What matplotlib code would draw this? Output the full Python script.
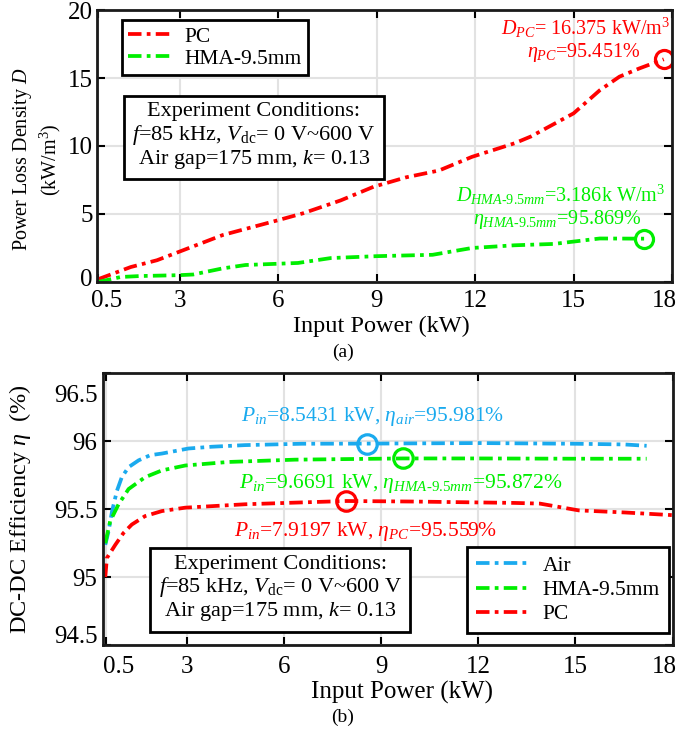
import matplotlib
matplotlib.use("Agg")
import matplotlib.pyplot as plt
from matplotlib.transforms import ScaledTranslation

plt.rcParams['font.family'] = ['Liberation Serif', 'DejaVu Serif']
plt.rcParams['mathtext.fontset'] = 'custom'
plt.rcParams['mathtext.rm'] = 'Liberation Serif'
plt.rcParams['mathtext.it'] = 'Liberation Serif:italic'
plt.rcParams['mathtext.bf'] = 'Liberation Serif:bold'

# ---------------- data (a) power loss density ----------------
pc_d_x = [0.5, 1.5, 2.3, 2.95, 4.3, 6.0, 6.75, 7.9, 8.9, 9.9, 10.9, 11.9, 13.2, 13.7, 15.0, 15.8, 16.4, 17.0, 17.75]
pc_d_y = [0.2, 1.1, 1.6, 2.2, 3.45, 4.55, 5.05, 6.0, 7.0, 7.7, 8.2, 9.2, 10.2, 10.7, 12.4, 14.1, 15.1, 15.7, 16.375]
hma_d_x = [0.5, 1.2, 1.8, 2.95, 3.4, 4.3, 5.0, 6.6, 7.6, 9.0, 10.7, 11.9, 13.2, 14.4, 15.8, 17.15]
hma_d_y = [0.0, 0.37, 0.44, 0.5, 0.55, 1.0, 1.25, 1.4, 1.76, 1.9, 2.0, 2.5, 2.7, 2.8, 3.2, 3.186]
pc_d_mark = (17.75, 16.375)
hma_d_mark = (17.15, 3.186)

# ---------------- data (b) efficiency ----------------
air_x = [0.47, 0.57, 0.68, 0.83, 0.98, 1.19, 1.5, 1.86, 2.22, 3.04, 3.76, 4.79, 6.54, 8.5431, 12.0, 15.0, 16.5, 17.2]
air_y = [95.237, 95.336, 95.485, 95.634, 95.734, 95.808, 95.858, 95.896, 95.908, 95.945, 95.958, 95.97, 95.98,
         95.981, 95.985, 95.98, 95.975, 95.965]
hma_x = [0.47, 0.62, 0.88, 1.19, 1.7, 2.22, 2.94, 4.27, 6.33, 9.6691, 12.0, 15.0, 17.2]
hma_y = [95.248, 95.41, 95.535, 95.647, 95.734, 95.784, 95.82, 95.846, 95.863, 95.872, 95.872, 95.87, 95.87]
pc_x = [0.47, 0.52, 0.78, 1.03, 1.29, 1.7, 2.22, 2.94, 4.79, 6.33, 7.9197, 10.0, 13.1, 13.9, 15.1, 16.5, 18.0]
pc_y = [95.0, 95.14, 95.237, 95.323, 95.386, 95.448, 95.485, 95.51, 95.535, 95.547, 95.559, 95.555, 95.545,
        95.54, 95.49, 95.475, 95.455]
air_mark = (8.5431, 95.981)
hma_mark = (9.6691, 95.872)
pc_mark = (7.9197, 95.559)

x_ticks = [0.5, 3, 6, 9, 12, 15, 18]
x_ticklabels = ['0.5', '3', '6', '9', '12', '15', '18']
d_ticks = [0, 5, 10, 15, 20]
eta_ticks = [94.5, 95, 95.5, 96, 96.5]
eta_ticklabels = ['94.5', '95', '95.5', '96', '96.5']

RED = '#FF0000'
GREEN = '#00EE00'
BLUE = '#1AAAEE'
DASH = (3.6, 1.4, 1.0, 1.4)
LW = 2.7

fig = plt.figure(figsize=(6.8, 7.3), dpi=100)
ax1 = fig.add_axes([0.1426, 0.6137, 0.8456, 0.3726])
ax2 = fig.add_axes([0.1515, 0.1164, 0.8375, 0.3726])


def style(ax):
    for s in ax.spines.values():
        s.set_linewidth(2.0)
        s.set_color('#1a1a1a')
    ax.grid(True, color='#e2e2e2', linewidth=1.5)
    ax.set_axisbelow(True)
    ax.tick_params(direction='in', length=6, width=1.5, top=True, right=True,
                   labelsize=18)


def shift(label, dx=0, dy=0):
    label.set_transform(label.get_transform() +
                        ScaledTranslation(dx / 100, dy / 100, fig.dpi_scale_trans))


COND = 'Experiment Conditions:\n$f$=85 kHz, $V_{\\rm dc}$= 0 V~600 V\nAir gap=175 mm, $k$= 0.13'

# ---------------- (a) ----------------
style(ax1)
ax1.plot(pc_d_x, pc_d_y, color=RED, lw=LW, dashes=DASH, label='PC')
ax1.plot(hma_d_x, hma_d_y, color=GREEN, lw=LW, dashes=DASH, label='HMA-9.5mm')
ax1.plot([pc_d_mark[0]], [pc_d_mark[1]], 'o', ms=13, mfc='none', mec=RED, mew=2.3)
ax1.plot([hma_d_mark[0]], [hma_d_mark[1]], 'o', ms=13, mfc='none', mec=GREEN, mew=2.3)
ax1.set_xlim(0.47, 18)
ax1.set_ylim(0, 20)
ax1.set_xticks(x_ticks)
ax1.set_xticklabels(x_ticklabels)
ax1.set_yticks(d_ticks)
ax1.tick_params(axis='x', pad=6)
ax1.tick_params(axis='y', pad=3)
ax1.set_xlabel('Input Power (kW)', fontsize=17.5)
ax1.xaxis.set_label_coords(0.494, -0.125)
ax1.xaxis.label.set_va('top')
ax1.set_ylabel('Power Loss Density $D$\n(kW/m$^3$)', fontsize=14.5, linespacing=1.2)
ax1.yaxis.set_label_coords(-0.059, 0.45)

leg1 = ax1.legend(loc='upper left', bbox_to_anchor=(0.0435, 0.963), borderaxespad=0,
                  fontsize=15.5, fancybox=False, framealpha=1, edgecolor='black',
                  labelspacing=0.1, borderpad=0.3, handlelength=2.0, handletextpad=0.6)
leg1.get_frame().set_linewidth(2)

ax1.text(0.273, 0.535, COND, transform=ax1.transAxes, ha='center', va='center',
         multialignment='center', fontsize=16, linespacing=1.08,
         bbox=dict(boxstyle='square,pad=0.38', fc='white', ec='black', lw=2))

ax1.text(17.94, 18.7, '$D_{PC}$= 16.375 kW/m$^3$', color=RED, fontsize=14.5,
         ha='right', va='center')
ax1.text(17.02, 16.9, r'$\eta_{PC}$=95.451%', color=RED, fontsize=14.5,
         ha='right', va='center')
ax1.text(17.79, 6.4, r'$D_{\mathit{HMA\text{-}9.5mm}}$=3.186k W/m$^3$', color=GREEN,
         fontsize=14.5, ha='right', va='center')
ax1.text(17.08, 4.56, r'$\eta_{\mathit{HMA\text{-}9.5mm}}$=95.869%', color=GREEN,
         fontsize=14.5, ha='right', va='center')

# ---------------- (b) ----------------
style(ax2)
ax2.plot(air_x, air_y, color=BLUE, lw=LW, dashes=DASH, label='Air')
ax2.plot(hma_x, hma_y, color=GREEN, lw=LW, dashes=DASH, label='HMA-9.5mm')
ax2.plot(pc_x, pc_y, color=RED, lw=LW, dashes=DASH, label='PC')
ax2.plot([air_mark[0]], [air_mark[1]], 'o', ms=14, mfc='none', mec=BLUE, mew=2.3)
ax2.plot([hma_mark[0]], [hma_mark[1]], 'o', ms=14, mfc='none', mec=GREEN, mew=2.3)
ax2.plot([pc_mark[0]], [pc_mark[1]], 'o', ms=14, mfc='none', mec=RED, mew=2.3)
ax2.set_xlim(0.4, 18)
ax2.set_ylim(94.5, 96.5)
ax2.set_xticks(x_ticks)
ax2.set_xticklabels(x_ticklabels)
ax2.set_yticks(eta_ticks)
ax2.set_yticklabels(eta_ticklabels)
ax2.tick_params(axis='x', pad=8)
ax2.tick_params(axis='y', pad=4)
ax2.set_xlabel('Input Power (kW)', fontsize=18)
ax2.xaxis.set_label_coords(0.525, -0.132)
ax2.xaxis.label.set_va('top')
ax2.set_ylabel(r'DC-DC Efficiency $\eta$  (%)', fontsize=17.5)
ax2.yaxis.set_label_coords(-0.123, 0.5)

leg2 = ax2.legend(loc='lower right', bbox_to_anchor=(0.993, 0.044), borderaxespad=0,
                  fontsize=15.5, fancybox=False, framealpha=1, edgecolor='black',
                  labelspacing=0.2, borderpad=0.4, handlelength=2.4, handletextpad=0.7)
leg2.get_frame().set_linewidth(2)

ax2.text(0.311, 0.206, COND, transform=ax2.transAxes, ha='center', va='center',
         multialignment='center', fontsize=16, linespacing=1.08,
         bbox=dict(boxstyle='square,pad=0.38', fc='white', ec='black', lw=2))

ax2.text(8.74, 96.18, r'$P_{in}$=8.5431 kW, $\eta_{air}$=95.981%', color=BLUE,
         fontsize=15.5, ha='center', va='center')
ax2.text(9.6, 95.687, r'$P_{in}$=9.6691 kW, $\eta_{\mathit{HMA\text{-}9.5mm}}$=95.872%',
         color=GREEN, fontsize=15.5, ha='center', va='center')
ax2.text(8.5, 95.336, r'$P_{in}$=7.9197 kW, $\eta_{PC}$=95.559%', color=RED,
         fontsize=15.5, ha='center', va='center')

fig.text(343 / 680, 1 - 352 / 730, '(a)', ha='center', va='center', fontsize=14)
fig.text(343 / 680, 1 - 717 / 730, '(b)', ha='center', va='center', fontsize=14)

# label offsets as in the reference
t1 = ax1.xaxis.get_major_ticks()
shift(t1[0].label1, dx=9)
shift(t1[-1].label1, dx=-8)
ty1 = ax1.yaxis.get_major_ticks()
shift(ty1[0].label1, dy=4)
t2 = ax2.xaxis.get_major_ticks()
shift(t2[0].label1, dx=12)
shift(t2[-1].label1, dx=-8)
ty2 = ax2.yaxis.get_major_ticks()
shift(ty2[0].label1, dy=11)
shift(ty2[-1].label1, dy=-20)

fig.savefig('out.png', dpi=100)
